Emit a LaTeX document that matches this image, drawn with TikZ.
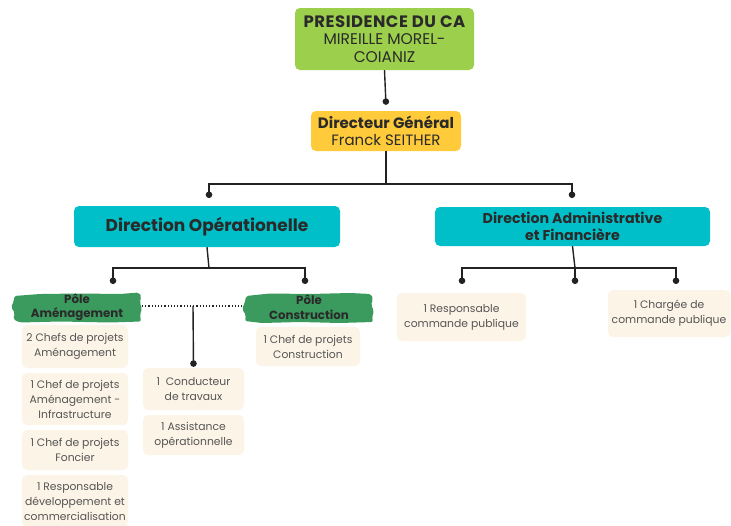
\documentclass[tikz,border=0pt]{standalone}
\usepackage{fontspec}
\setmainfont{Poppins}
\usetikzlibrary{arrows.meta}
\definecolor{presgreen}{HTML}{9CD04C}
\definecolor{dgyellow}{HTML}{FFCB3A}
\definecolor{dirteal}{HTML}{00BFC8}
\definecolor{polegreen}{HTML}{3B9A5D}
\definecolor{cream}{HTML}{FDF4E8}
\definecolor{ink}{HTML}{2A2A2A}
\definecolor{bodytext}{HTML}{555555}
\definecolor{linec}{HTML}{222222}
\begin{document}
\begin{tikzpicture}[x=1pt,y=-1pt,
  box/.style={rounded corners=5pt, inner sep=0pt, align=center, text=ink},
  cbox/.style={rounded corners=5pt, inner sep=0pt, align=center, fill=cream, text=bodytext,
    font=\fontsize{10.8}{15}\selectfont},
  conn/.style={draw=linec, line width=1.4pt, -{Circle[length=6.5pt,width=6.5pt]}},
  plain/.style={draw=linec, line width=1.4pt},
  dotline/.style={draw=linec, line width=1.2pt, dotted},
  poletext/.style={inner sep=0pt, align=center, text=ink, font=\bfseries\fontsize{11.8}{14.5}\selectfont}]
\useasboundingbox[fill=white] (0,0) rectangle (731,525);

% top boxes
\node[box, fill=presgreen, minimum width=179pt, minimum height=62pt,
  font=\fontsize{15.5}{17.5}\selectfont] (pres) at (384.5,39)
  {{\fontsize{16.5}{17.5}\selectfont\bfseries\addfontfeatures{LetterSpace=3}PRESIDENCE DU CA}\\MIREILLE MOREL-\\COIANIZ};
\node[box, fill=dgyellow, minimum width=150pt, minimum height=40pt,
  font=\fontsize{15}{17}\selectfont] (dg) at (386,131)
  {\textbf{Directeur Général}\\Franck SEITHER};

% directions
\node[box, fill=dirteal, minimum width=266pt, minimum height=41pt,
  font=\bfseries\fontsize{17}{18}\selectfont] (dop) at (207,226.5)
  {Direction Opérationelle};
\node[box, fill=dirteal, minimum width=275pt, minimum height=39pt,
  font=\bfseries\fontsize{14.2}{17}\selectfont] (daf) at (572.5,226.5)
  {Direction Administrative\\et Financière};

% connectors top
\draw[conn] (pres.south) -- ([yshift=6pt]dg.north);
\coordinate (hub1) at (386,184);
\draw[plain] (dg.south) -- (hub1);
\draw[conn] (hub1) -| (209,198);
\draw[conn] (hub1) -| (572,198);

% pole brush strokes
\fill[polegreen, rounded corners=2pt] (14,296) -- (40,294) -- (80,293.5) -- (120,294) -- (139,292.5)
  -- (141.5,297) -- (139.5,302) -- (142,308) -- (140,315) -- (141,321.5) -- (110,322.5)
  -- (60,321.5) -- (20,322.5) -- (13,319) -- (15,313) -- (11,307) -- (14,301) -- cycle;
\node[poletext] (pa) at (77,307.5) {Pôle\\Aménagement};
\coordinate (paE) at (142,306);

\fill[polegreen, rounded corners=2pt] (246,296) -- (270,293.5) -- (310,294) -- (350,293) -- (371,294)
  -- (373,299) -- (371,305) -- (374,311) -- (372,317) -- (373,322) -- (340,323)
  -- (300,322) -- (262,323) -- (245,321) -- (246,315) -- (242,309) -- (245,302) -- cycle;
\node[poletext] (pc) at (309,307.5) {Pôle\\Construction};
\coordinate (pcW) at (243,306);

% DOP children
\coordinate (hub2) at (209,268);
\draw[plain] (dop.south) -- (hub2);
\draw[conn] (hub2) -| (113,284);
\draw[conn] (hub2) -| (305,284);

\draw[dotline] (paE) -- (pcW);
\coordinate (midD) at (193,306);

% cream boxes left
\node[cbox, minimum width=106pt, minimum height=43pt] (a1) at (75,346.5)
  {2 Chefs de projets\\Aménagement};
\node[cbox, minimum width=106pt, minimum height=52pt] (a2) at (75,399)
  {1 Chef de projets\\Aménagement -\\Infrastructure};
\node[cbox, minimum width=106pt, minimum height=40pt] (a3) at (75,450)
  {1 Chef de projets\\Foncier};
\node[cbox, minimum width=106pt, minimum height=52pt, anchor=north] (a4) at (75,475)
  {1 Responsable\\développement et\\commercialisation};

\node[cbox, minimum width=101pt, minimum height=42pt] (c1) at (193.5,389)
  {1 \ Conducteur\\de travaux};
\node[cbox, minimum width=101pt, minimum height=40pt] (c2) at (193.5,435)
  {1 Assistance\\opérationnelle};
\draw[conn] (midD) -- ([yshift=1pt]c1.north);

\node[cbox, minimum width=104pt, minimum height=39pt] (pc1) at (308,346.5)
  {1 Chef de projets\\Construction};

% DAF children
\coordinate (hub3) at (575,268);
\draw[plain] (daf.south) -- (hub3);
\draw[conn] (hub3) -| (462,284);
\draw[conn] (hub3) -- (575,284);
\draw[conn] (hub3) -| (676,284);

\node[cbox, minimum width=129pt, minimum height=48pt] (r1) at (461.5,317)
  {1 Responsable\\commande publique};
\node[cbox, minimum width=122pt, minimum height=47pt] (r2) at (669,313.5)
  {1 Chargée de\\commande publique};
\end{tikzpicture}
\end{document}
